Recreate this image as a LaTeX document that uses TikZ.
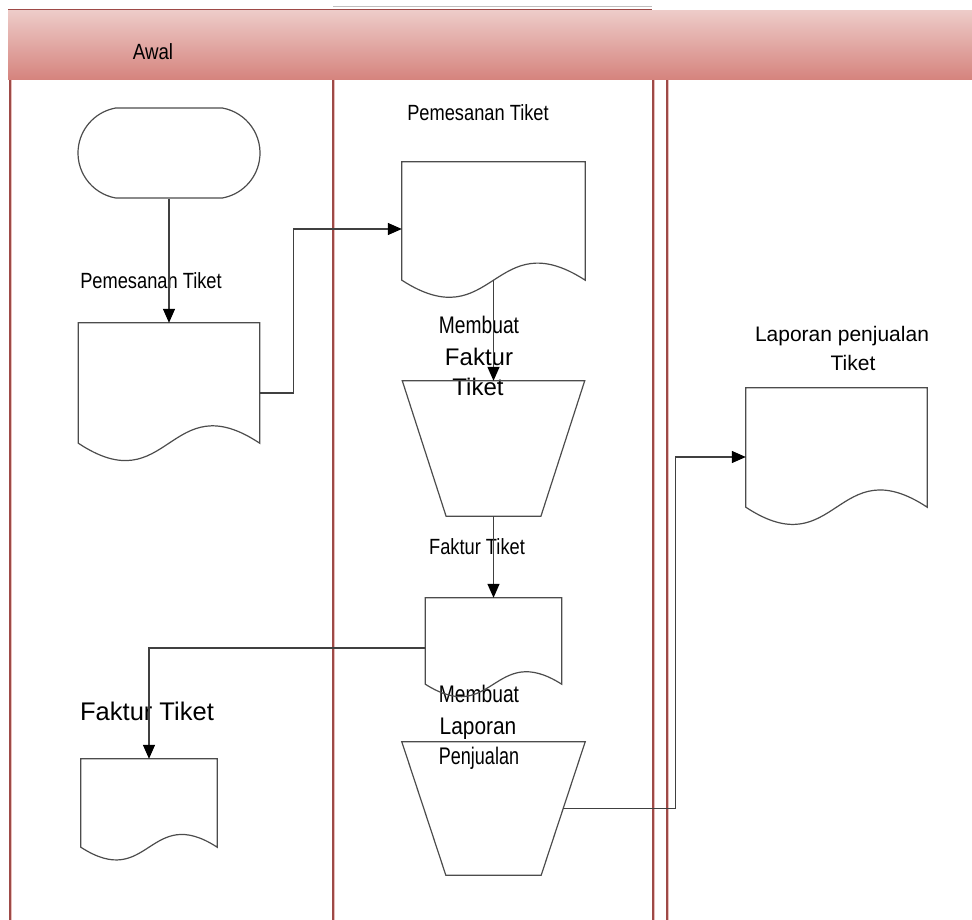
\documentclass[tikz,border=0pt]{standalone}
\usepackage{fontspec}
\setmainfont{Liberation Sans}
\usepackage{graphicx}
\usetikzlibrary{arrows.meta,calc,shapes.misc}
\definecolor{hdtop}{RGB}{237,203,200}
\definecolor{hdbot}{RGB}{213,131,125}
\definecolor{lane}{RGB}{158,74,71}
\definecolor{laneshade}{RGB}{232,190,187}
\newcommand{\cnd}[2][0.83]{\scalebox{#1}[1]{#2}}

\begin{document}
\begin{tikzpicture}[
  x=1pt, y=-1pt,
  outline/.style={draw=black!70, line width=1.2pt},
  doc/.style 2 args={rectangle, minimum width=#1, minimum height=#2, inner sep=0pt},
  startbox/.style={rounded rectangle, rounded rectangle arc length=160, outline,
    minimum width=182pt, minimum height=90pt, inner sep=0pt},
  conn/.style={draw=black!75, line width=1.3pt},
  arr/.style={conn, -{Triangle[length=14pt,width=12pt,black]}},
  lbl/.style={inner sep=0pt, anchor=base, font=\fontsize{22}{26}\selectfont},
  biglbl/.style={inner sep=0pt, anchor=base, font=\fontsize{24}{29}\selectfont}
]
  \useasboundingbox (0,0) rectangle (972,920);

  % header band and swimlanes
  \shade[top color=hdtop, bottom color=hdbot] (8,11) rectangle (972,80);
  \draw[lane, line width=1.5pt] (8,9.5) -- (652,9.5);
  \draw[black!25, line width=0.8pt] (333,6.5) -- (652,6.5);
  \foreach \x in {10,333,653,667} {
    \draw[laneshade, line width=1pt] (\x+1.8,80) -- (\x+1.8,920);
    \draw[lane, line width=1.5pt] (\x,80) -- (\x,920);
  }
  \node[lbl] (lAwal) at (153,60) {\cnd[0.85]{Awal}};

  % shapes
  \node[startbox] (start) at (169,153) {};
  \node[doc={181pt}{120pt}] (doc1) at (169,383) {};
  \node[doc={183pt}{118pt}] (doc2) at (493.5,221) {};
  \node[doc={182pt}{135pt}] (trap1) at (493.5,448.5) {};
  \node[doc={136pt}{86pt}] (doc3) at (493.5,641) {};
  \node[doc={136pt}{88pt}] (doc4) at (149,803) {};
  \node[doc={183pt}{133pt}] (trap2) at (493.5,808.5) {};
  \node[doc={181pt}{119pt}] (doc5) at (836.5,447.5) {};

  % labels
  \node[lbl] (lPesan1) at (151,288) {\cnd{Pemesanan Tiket}};
  \node[lbl] (lPesan2) at (478,121) {\cnd{Pemesanan Tiket}};
  \node[biglbl] (lBuat1) at (479,333) {\cnd[0.8]{Membuat}};
  \node[biglbl] (lFaktur1) at (479,365) {Faktur};
  \node[biglbl] (lTiket1) at (478,395) {Tiket};
  \node[lbl] (lFaktur2) at (477,554) {\cnd{Faktur Tiket}};
  \node[biglbl, font=\fontsize{25.5}{30}\selectfont] (lFaktur3) at (147,720) {Faktur Tiket};
  \node[biglbl] (lBuat2) at (479,702) {\cnd[0.8]{Membuat}};
  \node[biglbl] (lLaporan) at (478,734) {\cnd[0.87]{Laporan}};
  \node[biglbl] (lPenj) at (479,764) {\cnd[0.75]{Penjualan}};
  \node[lbl, font=\fontsize{21}{25}\selectfont] (lLapor3) at (842,341) {Laporan penjualan};
  \node[lbl, font=\fontsize{21}{25}\selectfont] (lTiket3) at (853,370) {Tiket};

  % outlines
  \foreach \n in {doc1,doc2,doc3,doc4,doc5}
    \draw[outline] (\n.north west) -- (\n.north east) -- (\n.south east)
      .. controls (\n.center) and ($(\n.south)!-1!(\n.center)$) .. (\n.south west) -- cycle;
  \foreach \n in {trap1,trap2}
    \draw[outline] (\n.north west) -- (\n.north east)
      -- ($(\n.south east)!0.24!(\n.south west)$) -- ($(\n.south west)!0.24!(\n.south east)$) -- cycle;

  % connectors
  \draw[arr] (start.south) -- (doc1.north);
  \draw[arr] ([yshift=-10pt]doc1.east) -- ++(34,0) |- ([yshift=-8pt]doc2.west);
  \draw[arr] (doc2.south) -- (trap1.north);
  \draw[arr] (trap1.south) -- (doc3.north);
  \draw[arr] ([yshift=-7pt]doc3.west) -| (doc4.north);
  \draw[arr] ([xshift=-22pt]trap2.east) -- ++(112,0) |- ([yshift=-9.5pt]doc5.west);
\end{tikzpicture}
\end{document}
